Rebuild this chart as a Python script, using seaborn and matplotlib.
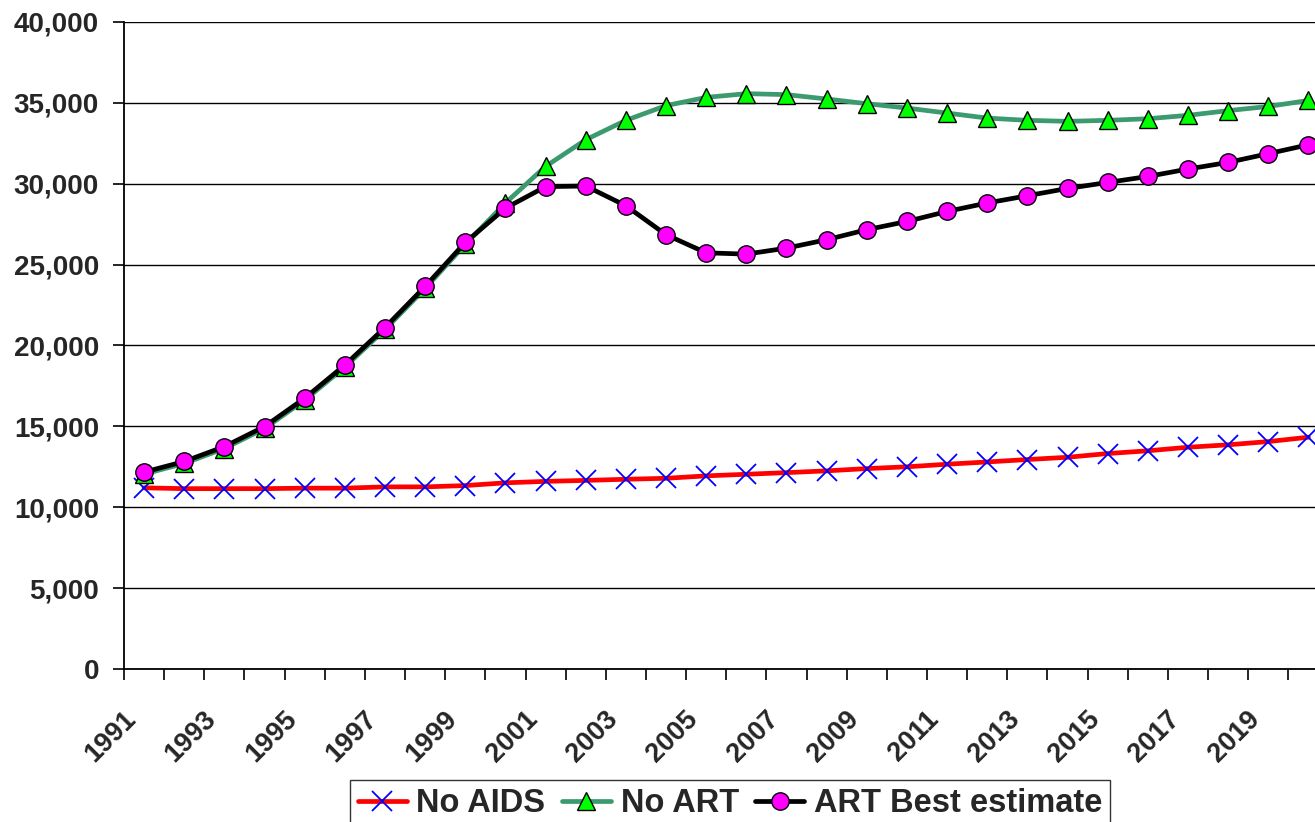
import numpy as np
import matplotlib
matplotlib.use("Agg")
import matplotlib.pyplot as plt
import matplotlib.transforms as mtransforms
from matplotlib.ticker import FuncFormatter, FixedLocator
import seaborn as sns

years = list(range(1991, 2021))

no_aids = [11200, 11150, 11150, 11150, 11180, 11180, 11260, 11260, 11340, 11510,
           11600, 11660, 11730, 11790, 11940, 12040, 12140, 12250, 12390, 12500,
           12660, 12800, 12950, 13090, 13320, 13490, 13710, 13860, 14060, 14330]

no_art = [12050, 12710, 13630, 14870, 16620, 18670, 20990, 23530, 26250, 28810,
          31070, 32720, 33920, 34830, 35340, 35570, 35510, 35240, 34950, 34680,
          34370, 34060, 33920, 33860, 33920, 34020, 34230, 34520, 34780, 35150]

art_best = [12170, 12830, 13750, 14990, 16740, 18790, 21110, 23650, 26370, 28490,
            29820, 29860, 28640, 26850, 25730, 25650, 26020, 26540, 27160, 27670,
            28290, 28810, 29260, 29710, 30080, 30450, 30910, 31320, 31860, 32410]

series_names = ["No AIDS", "No ART", "ART Best estimate"]

sns.set_theme(style="white")
plt.rcParams["font.family"] = ["Liberation Sans", "DejaVu Sans"]
plt.rcParams["font.weight"] = "bold"

W, H = 1315, 822
fig = plt.figure(figsize=(W / 100, H / 100), dpi=100)
# category width is ~40.15 px; the plot area runs past the right edge of the canvas
ax = fig.add_axes([124 / W, 1 - 669 / H, 30 * 40.15 / W, (669 - 22) / H])

pos = np.arange(len(years))

sns.lineplot(x=pos, y=no_aids, ax=ax, color="#FF0000", linewidth=3.4,
             marker="x", markersize=14, markeredgecolor="#0000FF",
             markeredgewidth=1.3, label=series_names[0], zorder=3)
sns.lineplot(x=pos, y=no_art, ax=ax, color="#3C9B6E", linewidth=3.4,
             marker="^", markersize=12.5, markerfacecolor="#00FF00",
             markeredgecolor="black", markeredgewidth=1.0,
             label=series_names[1], zorder=4)
sns.lineplot(x=pos, y=art_best, ax=ax, color="black", linewidth=3.4,
             marker="o", markersize=12.5, markerfacecolor="#FF00FF",
             markeredgecolor="black", markeredgewidth=1.0,
             label=series_names[2], zorder=5)

ax.set_xlim(-0.5, len(years) - 0.5)
ax.set_ylim(0, 40000)
ax.set_yticks(np.arange(0, 40001, 5000))
ax.yaxis.set_major_formatter(FuncFormatter(lambda v, p: f"{v:,.0f}"))
ax.grid(axis="y", color="black", linewidth=1.0)
ax.grid(axis="x", visible=False)
ax.set_axisbelow(True)

for s in ["top", "right"]:
    ax.spines[s].set_visible(False)
for s in ["left", "bottom"]:
    ax.spines[s].set_color("black")
    ax.spines[s].set_linewidth(1.3)

# tick marks sit on the category boundaries, labels on every other category
ax.xaxis.set_major_locator(FixedLocator(np.arange(-0.5, len(years), 1.0)))
ax.set_xticklabels([""] * (len(years) + 1))
label_pos = pos[::2]
ax.xaxis.set_minor_locator(FixedLocator(label_pos))
ax.set_xticks(label_pos, labels=[str(years[i]) for i in label_pos], minor=True)

ax.tick_params(axis="x", which="major", direction="out", length=8, width=1.2,
               color="black", bottom=True)
ax.tick_params(axis="x", which="minor", length=0, pad=33, labelsize=19.5)
ax.tick_params(axis="y", direction="out", length=8, width=1.2, color="black",
               left=True, pad=10, labelsize=20)

shift = mtransforms.ScaledTranslation(-12 / 100, 0, fig.dpi_scale_trans)
for lbl in ax.get_xticklabels(minor=True):
    lbl.set_rotation(45)
    lbl.set_ha("right")
    lbl.set_va("center")
    lbl.set_rotation_mode("anchor")
    lbl.set_fontweight("bold")
    lbl.set_transform(lbl.get_transform() + shift)
for lbl in ax.get_yticklabels():
    lbl.set_fontweight("bold")

ax.set_xlabel("")
ax.set_ylabel("")

ax.get_legend().remove()
handles, labels = ax.get_legend_handles_labels()
leg = fig.legend(handles, labels, loc="upper center",
                 bbox_to_anchor=(730 / W, 1 - 780 / H), ncol=3,
                 frameon=True, fancybox=False, edgecolor="black",
                 prop={"weight": "bold", "size": 23.5}, handlelength=1.5,
                 handletextpad=0.3, columnspacing=0.5, borderpad=0.25,
                 borderaxespad=0)
leg.get_frame().set_linewidth(1.0)

fig.savefig("out.png", dpi=100)
